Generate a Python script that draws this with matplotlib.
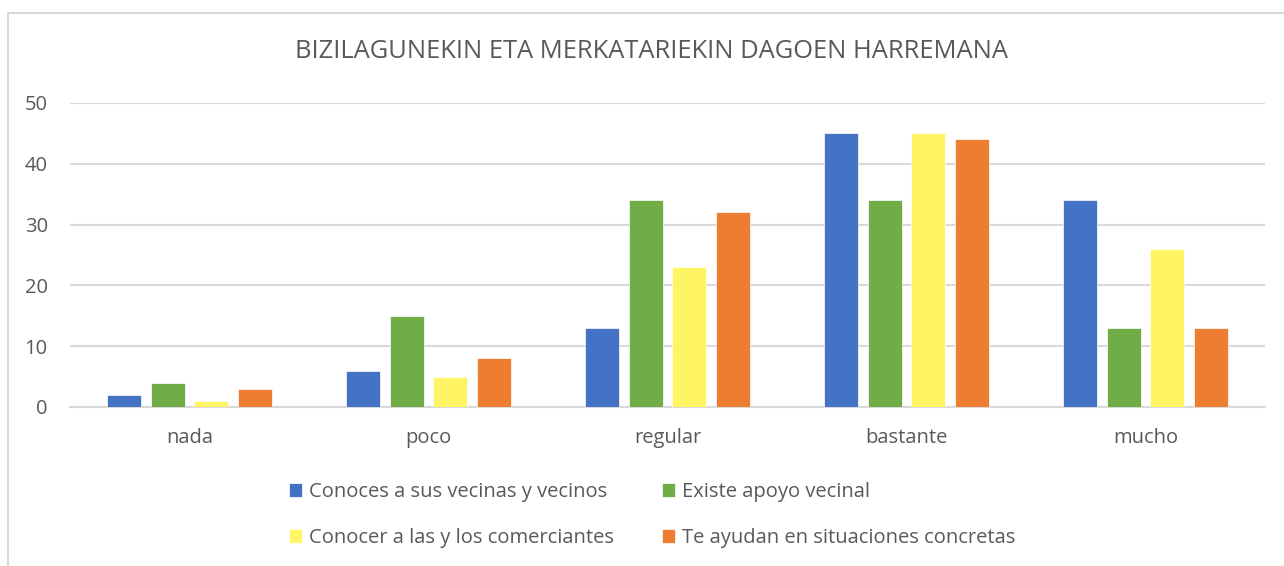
import numpy as np
import matplotlib.pyplot as plt
from matplotlib.patches import Rectangle

# Data
categories = ['nada', 'poco', 'regular', 'bastante', 'mucho']
series_names = ['Conoces a sus vecinas y vecinos', 'Existe apoyo vecinal',
                'Conocer a las y los comerciantes', 'Te ayudan en situaciones concretas']
vecinos = [2, 6, 13, 45, 34]
apoyo = [4, 15, 34, 34, 13]
comerciantes = [1, 5, 23, 45, 26]
ayudan = [3, 8, 32, 44, 13]
colors = ['#4472C4', '#70AD47', '#FFF463', '#ED7D31']

plt.rcParams['font.family'] = ['Open Sans', 'DejaVu Sans']
text_color = '#595959'
grid_color = '#D9D9D9'

fig = plt.figure(figsize=(12.84, 5.66), dpi=100)
ax = fig.add_axes([70 / 1284, 159 / 566, 1195 / 1284, 304 / 566])

# chart border
fig.patches.append(Rectangle((8 / 1284, -0.1), 1.2, (566 - 13) / 566 + 0.1,
                             transform=fig.transFigure, fill=False,
                             edgecolor=grid_color, linewidth=1.5))

x = np.arange(len(categories))
step = 0.182
width = 0.142
all_series = [vecinos, apoyo, comerciantes, ayudan]
for i, (vals, name, col) in enumerate(zip(all_series, series_names, colors)):
    ax.bar(x + (i - 1.5) * step, vals, width, color=col, label=name,
           edgecolor='white', linewidth=0.5, zorder=3)

ax.set_xlim(-0.5, len(categories) - 0.5)
ax.set_ylim(0, 50)
ax.set_yticks(range(0, 51, 10))
ax.set_xticks(x)
ax.set_xticklabels(categories)
ax.yaxis.grid(True, color=grid_color, linewidth=1.5, zorder=0)
for s in ['top', 'right', 'left']:
    ax.spines[s].set_visible(False)
ax.spines['bottom'].set_color(grid_color)
ax.spines['bottom'].set_linewidth(1.5)
ax.tick_params(axis='both', length=0, labelsize=14.5, colors=text_color)
ax.tick_params(axis='x', pad=15)
ax.tick_params(axis='y', pad=16)

fig.text(652 / 1284, 1 - 52 / 566, 'BIZILAGUNEKIN ETA MERKATARIEKIN DAGOEN HARREMANA',
         ha='center', va='center', fontsize=18.4, color=text_color)

# legend fills column-wise, so reorder to get row-wise order
handles, labels = ax.get_legend_handles_labels()
order = [0, 2, 1, 3]
fig.legend([handles[i] for i in order], [labels[i] for i in order], ncol=2,
           loc='center', bbox_to_anchor=(652 / 1284, 1 - 515 / 566), frameon=False,
           fontsize=14.5, labelcolor=text_color, handlelength=0.65,
           handleheight=0.65, handletextpad=0.35, columnspacing=2.4,
           labelspacing=1.3)

fig.savefig('out.png', dpi=100)
